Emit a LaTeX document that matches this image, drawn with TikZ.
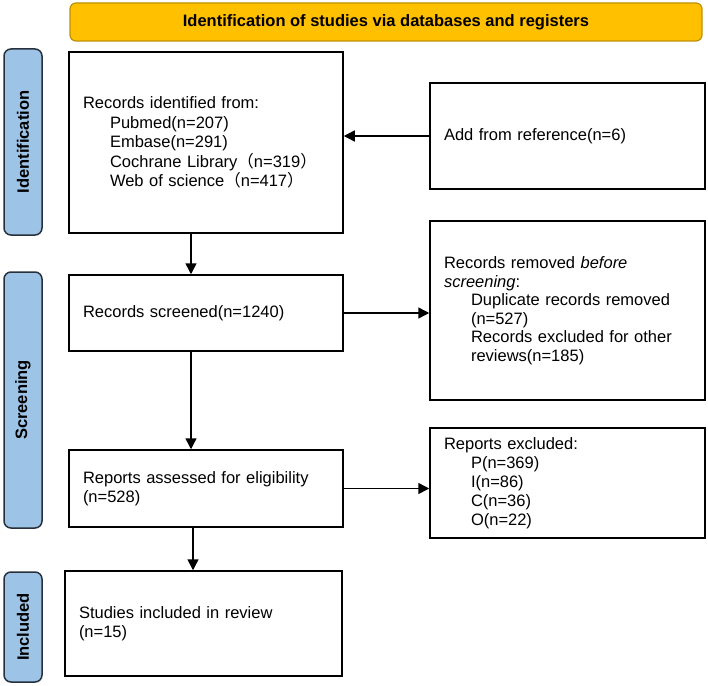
\documentclass[tikz,border=0pt]{standalone}
\usepackage{fontspec}
\setmainfont{Liberation Sans}
\newfontfamily\cjk{Noto Sans CJK SC}
\usetikzlibrary{arrows.meta}
\definecolor{headgold}{HTML}{FFC000}
\definecolor{headrim}{HTML}{BF9000}
\definecolor{barblue}{HTML}{9DC3E6}
\definecolor{barrim}{HTML}{26313D}
\newcommand{\ind}{\hspace*{27pt}}
\newcommand{\fwl}{{\cjk （}}
\newcommand{\fwr}{{\cjk ）}}

\begin{document}
\begin{tikzpicture}[x=1pt, y=-1pt,
  box/.style = {draw, line width=1.5pt, align=left, inner xsep=14pt, inner ysep=0pt, font=\fontsize{16.5}{19.5}\selectfont},
  phase/.style = {draw=barrim, fill=barblue, line width=1.5pt, rounded corners=7pt, rotate=90, minimum height=38pt, inner sep=0pt, font=\bfseries\fontsize{16.5}{19.5}\selectfont},
  head/.style = {draw=headrim, fill=headgold, line width=1.2pt, rounded corners=6pt, minimum width=632pt, minimum height=38pt, font=\bfseries\fontsize{16.5}{19.5}\selectfont}]
\useasboundingbox (0,0) rectangle (708,685);

\node[head] (title) at (386, 22) {Identification of studies via databases and registers};

\node[phase, minimum width=186pt] (p_ident) at (23, 142) {Identification};
\node[phase, minimum width=256pt] (p_screen) at (23, 400) {Screening};
\node[phase, minimum width=110pt] (p_incl) at (23, 627) {Included};

\node[box, text width=246pt, minimum height=181pt] (ident) at (206, 142.5) {Records identified from:\\ \ind Pubmed(n=207)\\ \ind Embase(n=291)\\ \ind Cochrane Library\fwl n=319\fwr\\ \ind Web of science\fwl n=417\fwr};
\node[box, text width=247pt, minimum height=106pt] (add) at (567.5, 136) {Add from reference(n=6)};
\node[box, text width=246pt, minimum height=76pt] (scr) at (206, 313) {Records screened(n=1240)};
\node[box, text width=247pt, minimum height=179pt, font=\fontsize{16.5}{18.5}\selectfont] (rem) at (567.5, 310.5) {Records removed \textit{before}\\ \textit{screening}:\\ \ind Duplicate records removed\\ \ind (n=527)\\ \ind Records excluded for other\\ \ind reviews(n=185)};
\node[box, text width=246pt, minimum height=77pt] (asr) at (206, 488.5) {Reports assessed for eligibility\\ (n=528)};
\node[box, text width=247pt, minimum height=110pt, font=\fontsize{16.5}{19}\selectfont] (exc) at (567.5, 483) {Reports excluded:\\ \ind P(n=369)\\ \ind I(n=86)\\ \ind C(n=36)\\ \ind O(n=22)};
\node[box, text width=249pt, minimum height=105pt] (inc) at (203.5, 623.5) {Studies included in review\\ (n=15)};

\begin{scope}[line width=1.5pt, -{Triangle[length=11pt, width=11pt]}]
\draw (add.west) -- (add.west -| ident.east);
\draw ([xshift=-15pt]ident.south) -- ([xshift=-15pt]scr.north);
\draw (scr.east) -- (scr.east -| rem.west);
\draw ([xshift=-15pt]scr.south) -- ([xshift=-15pt]asr.north);
\draw (asr.east) -- (asr.east -| exc.west);
\draw ([xshift=-13pt]asr.south) -- ([xshift=-13pt]asr.south |- inc.north);
\end{scope}
\end{tikzpicture}
\end{document}
